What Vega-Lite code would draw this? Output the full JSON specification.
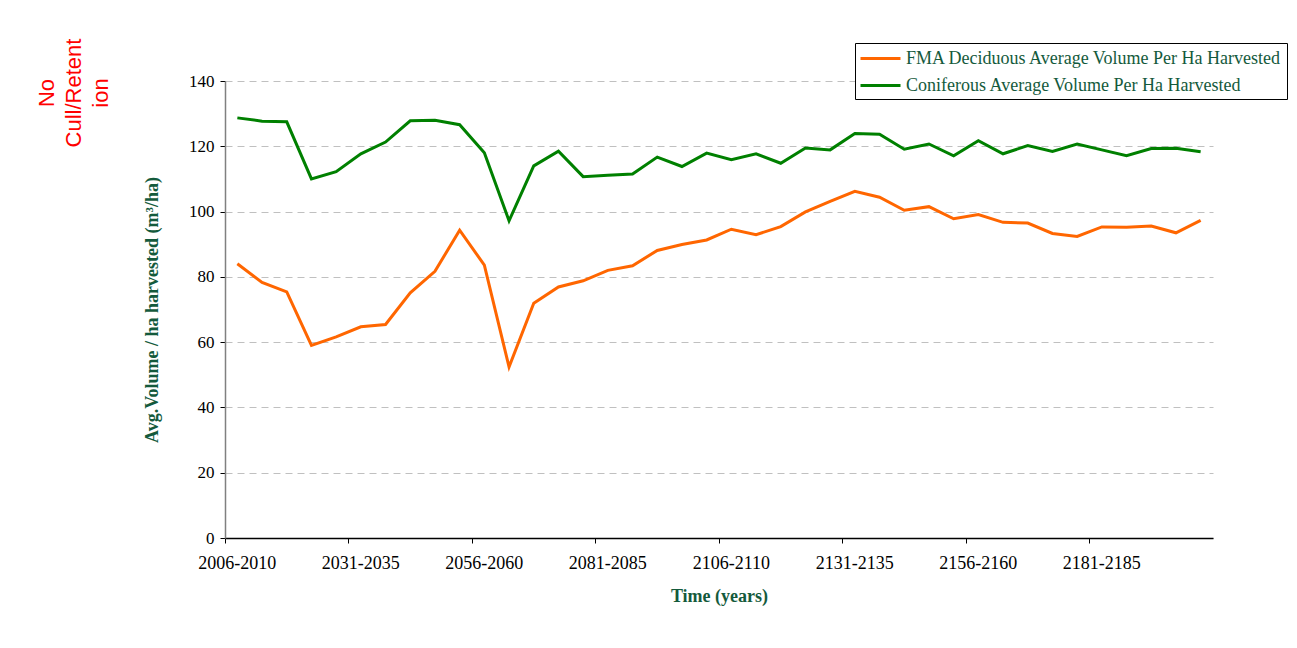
{
  "$schema": "https://vega.github.io/schema/vega-lite/v6.json",
  "width": 988,
  "height": 457,
  "autosize": {"type": "none"},
  "padding": {"left": 225, "top": 81, "right": 84, "bottom": 110},
  "background": "white",
  "title": {
    "text": ["No", "Cull/Retent", "ion"],
    "orient": "left",
    "anchor": "end",
    "frame": "group",
    "align": "center",
    "font": "Liberation Sans",
    "fontSize": 22,
    "fontWeight": "normal",
    "color": "#ff0000",
    "lineHeight": 27,
    "offset": 31,
    "dx": -12
  },
  "datasets": {
    "d": [
      {"p":"2006-2010","s":"FMA Deciduous Average Volume Per Ha Harvested","v":84.0},
      {"p":"2011-2015","s":"FMA Deciduous Average Volume Per Ha Harvested","v":78.3},
      {"p":"2016-2020","s":"FMA Deciduous Average Volume Per Ha Harvested","v":75.4},
      {"p":"2021-2025","s":"FMA Deciduous Average Volume Per Ha Harvested","v":59.0},
      {"p":"2026-2030","s":"FMA Deciduous Average Volume Per Ha Harvested","v":61.6},
      {"p":"2031-2035","s":"FMA Deciduous Average Volume Per Ha Harvested","v":64.7},
      {"p":"2036-2040","s":"FMA Deciduous Average Volume Per Ha Harvested","v":65.4},
      {"p":"2041-2045","s":"FMA Deciduous Average Volume Per Ha Harvested","v":75.1},
      {"p":"2046-2050","s":"FMA Deciduous Average Volume Per Ha Harvested","v":81.7},
      {"p":"2051-2055","s":"FMA Deciduous Average Volume Per Ha Harvested","v":94.3},
      {"p":"2056-2060","s":"FMA Deciduous Average Volume Per Ha Harvested","v":83.6},
      {"p":"2061-2065","s":"FMA Deciduous Average Volume Per Ha Harvested","v":52.4},
      {"p":"2066-2070","s":"FMA Deciduous Average Volume Per Ha Harvested","v":71.9},
      {"p":"2071-2075","s":"FMA Deciduous Average Volume Per Ha Harvested","v":76.9},
      {"p":"2076-2080","s":"FMA Deciduous Average Volume Per Ha Harvested","v":78.8},
      {"p":"2081-2085","s":"FMA Deciduous Average Volume Per Ha Harvested","v":82.0},
      {"p":"2086-2090","s":"FMA Deciduous Average Volume Per Ha Harvested","v":83.4},
      {"p":"2091-2095","s":"FMA Deciduous Average Volume Per Ha Harvested","v":88.1},
      {"p":"2096-2100","s":"FMA Deciduous Average Volume Per Ha Harvested","v":89.9},
      {"p":"2101-2105","s":"FMA Deciduous Average Volume Per Ha Harvested","v":91.3},
      {"p":"2106-2110","s":"FMA Deciduous Average Volume Per Ha Harvested","v":94.6},
      {"p":"2111-2115","s":"FMA Deciduous Average Volume Per Ha Harvested","v":92.9},
      {"p":"2116-2120","s":"FMA Deciduous Average Volume Per Ha Harvested","v":95.4},
      {"p":"2121-2125","s":"FMA Deciduous Average Volume Per Ha Harvested","v":99.9},
      {"p":"2126-2130","s":"FMA Deciduous Average Volume Per Ha Harvested","v":103.1},
      {"p":"2131-2135","s":"FMA Deciduous Average Volume Per Ha Harvested","v":106.2},
      {"p":"2136-2140","s":"FMA Deciduous Average Volume Per Ha Harvested","v":104.4},
      {"p":"2141-2145","s":"FMA Deciduous Average Volume Per Ha Harvested","v":100.4},
      {"p":"2146-2150","s":"FMA Deciduous Average Volume Per Ha Harvested","v":101.5},
      {"p":"2151-2155","s":"FMA Deciduous Average Volume Per Ha Harvested","v":97.8},
      {"p":"2156-2160","s":"FMA Deciduous Average Volume Per Ha Harvested","v":99.1},
      {"p":"2161-2165","s":"FMA Deciduous Average Volume Per Ha Harvested","v":96.7},
      {"p":"2166-2170","s":"FMA Deciduous Average Volume Per Ha Harvested","v":96.5},
      {"p":"2171-2175","s":"FMA Deciduous Average Volume Per Ha Harvested","v":93.3},
      {"p":"2176-2180","s":"FMA Deciduous Average Volume Per Ha Harvested","v":92.4},
      {"p":"2181-2185","s":"FMA Deciduous Average Volume Per Ha Harvested","v":95.3},
      {"p":"2186-2190","s":"FMA Deciduous Average Volume Per Ha Harvested","v":95.2},
      {"p":"2191-2195","s":"FMA Deciduous Average Volume Per Ha Harvested","v":95.6},
      {"p":"2196-2200","s":"FMA Deciduous Average Volume Per Ha Harvested","v":93.5},
      {"p":"2201-2205","s":"FMA Deciduous Average Volume Per Ha Harvested","v":97.3},
      {"p":"2006-2010","s":"Coniferous Average Volume Per Ha Harvested","v":128.7},
      {"p":"2011-2015","s":"Coniferous Average Volume Per Ha Harvested","v":127.7},
      {"p":"2016-2020","s":"Coniferous Average Volume Per Ha Harvested","v":127.5},
      {"p":"2021-2025","s":"Coniferous Average Volume Per Ha Harvested","v":110.0},
      {"p":"2026-2030","s":"Coniferous Average Volume Per Ha Harvested","v":112.2},
      {"p":"2031-2035","s":"Coniferous Average Volume Per Ha Harvested","v":117.7},
      {"p":"2036-2040","s":"Coniferous Average Volume Per Ha Harvested","v":121.3},
      {"p":"2041-2045","s":"Coniferous Average Volume Per Ha Harvested","v":127.8},
      {"p":"2046-2050","s":"Coniferous Average Volume Per Ha Harvested","v":128.0},
      {"p":"2051-2055","s":"Coniferous Average Volume Per Ha Harvested","v":126.6},
      {"p":"2056-2060","s":"Coniferous Average Volume Per Ha Harvested","v":118.0},
      {"p":"2061-2065","s":"Coniferous Average Volume Per Ha Harvested","v":97.2},
      {"p":"2066-2070","s":"Coniferous Average Volume Per Ha Harvested","v":114.0},
      {"p":"2071-2075","s":"Coniferous Average Volume Per Ha Harvested","v":118.5},
      {"p":"2076-2080","s":"Coniferous Average Volume Per Ha Harvested","v":110.7},
      {"p":"2081-2085","s":"Coniferous Average Volume Per Ha Harvested","v":111.1},
      {"p":"2086-2090","s":"Coniferous Average Volume Per Ha Harvested","v":111.5},
      {"p":"2091-2095","s":"Coniferous Average Volume Per Ha Harvested","v":116.7},
      {"p":"2096-2100","s":"Coniferous Average Volume Per Ha Harvested","v":113.8},
      {"p":"2101-2105","s":"Coniferous Average Volume Per Ha Harvested","v":117.9},
      {"p":"2106-2110","s":"Coniferous Average Volume Per Ha Harvested","v":115.9},
      {"p":"2111-2115","s":"Coniferous Average Volume Per Ha Harvested","v":117.7},
      {"p":"2116-2120","s":"Coniferous Average Volume Per Ha Harvested","v":114.8},
      {"p":"2121-2125","s":"Coniferous Average Volume Per Ha Harvested","v":119.5},
      {"p":"2126-2130","s":"Coniferous Average Volume Per Ha Harvested","v":118.9},
      {"p":"2131-2135","s":"Coniferous Average Volume Per Ha Harvested","v":123.9},
      {"p":"2136-2140","s":"Coniferous Average Volume Per Ha Harvested","v":123.7},
      {"p":"2141-2145","s":"Coniferous Average Volume Per Ha Harvested","v":119.1},
      {"p":"2146-2150","s":"Coniferous Average Volume Per Ha Harvested","v":120.7},
      {"p":"2151-2155","s":"Coniferous Average Volume Per Ha Harvested","v":117.1},
      {"p":"2156-2160","s":"Coniferous Average Volume Per Ha Harvested","v":121.7},
      {"p":"2161-2165","s":"Coniferous Average Volume Per Ha Harvested","v":117.7},
      {"p":"2166-2170","s":"Coniferous Average Volume Per Ha Harvested","v":120.2},
      {"p":"2171-2175","s":"Coniferous Average Volume Per Ha Harvested","v":118.4},
      {"p":"2176-2180","s":"Coniferous Average Volume Per Ha Harvested","v":120.7},
      {"p":"2181-2185","s":"Coniferous Average Volume Per Ha Harvested","v":118.9},
      {"p":"2186-2190","s":"Coniferous Average Volume Per Ha Harvested","v":117.1},
      {"p":"2191-2195","s":"Coniferous Average Volume Per Ha Harvested","v":119.3},
      {"p":"2196-2200","s":"Coniferous Average Volume Per Ha Harvested","v":119.4},
      {"p":"2201-2205","s":"Coniferous Average Volume Per Ha Harvested","v":118.3}
    ]
  },
  "data": {"name": "d"},
  "mark": {"type": "line", "strokeWidth": 3, "strokeJoin": "miter", "strokeCap": "butt"},
  "encoding": {
    "x": {
      "field": "p",
      "type": "ordinal",
      "sort": null,
      "bandPosition": 0.5,
      "scale": {"type": "band", "paddingInner": 0, "paddingOuter": 0},
      "axis": {
        "title": "Time (years)",
        "values": ["2006-2010","2031-2035","2056-2060","2081-2085","2106-2110","2131-2135","2156-2160","2181-2185"],
        "bandPosition": 0,
        "labelAngle": 0,
        "labelFont": "Liberation Serif",
        "labelFontSize": 18,
        "labelColor": "#000000",
        "labelPadding": 11,
        "domainColor": "#000000",
        "domainWidth": 1.5,
        "tickColor": "#000000",
        "tickSize": 5,
        "tickWidth": 1,
        "grid": false,
        "titleFont": "Liberation Serif",
        "titleFontSize": 18,
        "titleFontWeight": "bold",
        "titleColor": "#145a3c",
        "titlePadding": 15
      }
    },
    "y": {
      "field": "v",
      "type": "quantitative",
      "scale": {"domain": [0, 140], "nice": false},
      "axis": {
        "title": "Avg.Volume / ha harvested (m³/ha)",
        "values": [0,20,40,60,80,100,120,140],
        "labelFont": "Liberation Serif",
        "labelFontSize": 17,
        "labelColor": "#000000",
        "labelPadding": 6,
        "domainColor": "#808080",
        "domainWidth": 1.5,
        "tickColor": "#000000",
        "tickSize": 5,
        "grid": true,
        "gridColor": "#c0c0c0",
        "gridDash": [7, 5],
        "gridWidth": 1,
        "titleFont": "Liberation Serif",
        "titleFontSize": 18,
        "titleFontWeight": "bold",
        "titleColor": "#145a3c",
        "titlePadding": 27
      }
    },
    "color": {
      "field": "s",
      "type": "nominal",
      "sort": ["FMA Deciduous Average Volume Per Ha Harvested", "Coniferous Average Volume Per Ha Harvested"],
      "scale": {
        "domain": ["FMA Deciduous Average Volume Per Ha Harvested", "Coniferous Average Volume Per Ha Harvested"],
        "range": ["#ff6600", "#008000"]
      },
      "legend": {
        "title": null,
        "orient": "none",
        "legendX": 630,
        "legendY": -38,
        "strokeColor": "#000000",
        "fillColor": "#ffffff",
        "padding": 4,
        "symbolType": "M-1,0H3",
        "symbolSize": 400,
        "symbolStrokeWidth": 3,
        "labelFont": "Liberation Serif",
        "labelFontSize": 18,
        "labelColor": "#145a3c",
        "labelLimit": 600,
        "labelOffset": 24,
        "rowPadding": 6
      }
    }
  },
  "config": {
    "view": {"stroke": null},
    "axis": {"labelFont": "Liberation Serif"}
  }
}
